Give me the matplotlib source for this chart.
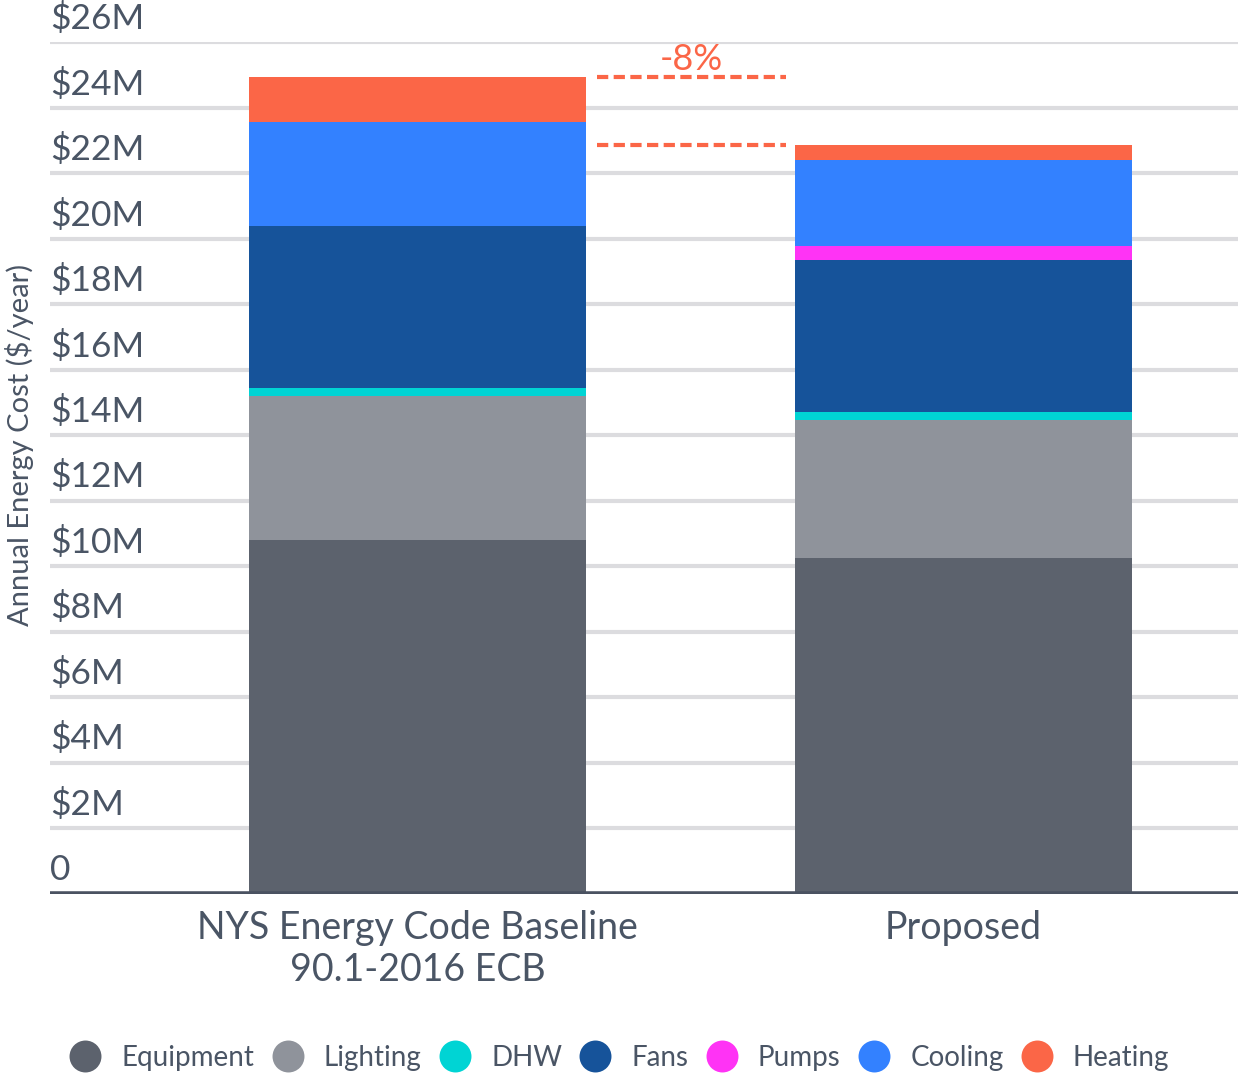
import numpy as np
import matplotlib
matplotlib.use('Agg')
import matplotlib.pyplot as plt
from matplotlib.lines import Line2D
from matplotlib.transforms import blended_transform_factory

# Data ($M per year)
categories = ['NYS Energy Code Baseline\n90.1-2016 ECB', 'Proposed']
end_uses = ['Equipment', 'Lighting', 'DHW', 'Fans', 'Pumps', 'Cooling', 'Heating']
baseline = [10.80, 4.41, 0.23, 4.95, 0.00, 3.18, 1.36]
proposed = [10.25, 4.22, 0.24, 4.64, 0.44, 2.63, 0.44]
yticks = [0, 2, 4, 6, 8, 10, 12, 14, 16, 18, 20, 22, 24, 26]
ytick_labels = ['0'] + ['$%dM' % v for v in yticks[1:]]
change_label = '-8%'

colors = ['#5c626d', '#8f939b', '#00d4d4', '#16539a', '#ff33f5', '#3381ff', '#fb6647']
text_color = '#4a5565'

plt.rcParams['font.family'] = ['Lato', 'DejaVu Sans']

fig = plt.figure(figsize=(12.38, 10.77), dpi=100)
ax = fig.add_axes([50 / 1238, 1 - 893.6 / 1077, 1 - 50 / 1238, (893.6 - 42.3) / 1077])

x = np.arange(len(categories))
width = 0.617
data = np.array([baseline, proposed])
bottom = np.zeros(len(categories))
for i, name in enumerate(end_uses):
    ax.bar(x, data[:, i], width, bottom=bottom, color=colors[i], zorder=3,
           linewidth=0)
    bottom += data[:, i]

totals = data.sum(axis=1)

ax.set_xlim(-0.673, 1.503)
ax.set_ylim(0, 26)

# grid lines and labels above them
for v in yticks[1:]:
    ax.axhline(v, color='#dcdcdf', lw=3, zorder=1)
trans = blended_transform_factory(ax.transAxes, ax.transData)
for v, lab in zip(yticks, ytick_labels):
    ax.text(0, v + 0.22, lab, transform=trans, ha='left', va='bottom',
            fontsize=25.5, color=text_color, zorder=4)
ax.axhline(0, color='#4a5261', lw=4, zorder=4)

ax.set_yticks([])
ax.set_xticks(x)
ax.set_xticklabels(categories, fontsize=27, color=text_color, linespacing=1.2)
ax.tick_params(axis='x', length=0, pad=12)
for s in ax.spines.values():
    s.set_visible(False)

fig.text(20 / 1238, 1 - 445 / 1077, 'Annual Energy Cost ($/year)', rotation=90,
         ha='center', va='center', fontsize=21, color=text_color)

# change annotation
x0 = x[0] + width / 2 + 0.02
x1 = x[1] - width / 2 - 0.016
for t in totals:
    ax.plot([x0, x1], [t, t], color='#fb6647', lw=3, dashes=(2.7, 1.3),
            zorder=5, solid_capstyle='butt', dash_capstyle='butt')
ax.text((x0 + x1) / 2, totals[0] + 0.05, change_label, ha='center', va='bottom',
        fontsize=26, color='#fb6647')

handles = [Line2D([], [], marker='o', ls='', markersize=23, color=c,
                  markeredgewidth=0) for c in colors]
fig.legend(handles, end_uses, loc='center', bbox_to_anchor=(0.5, 1 - 1058 / 1077),
           ncol=7, frameon=False, fontsize=20, labelcolor=text_color,
           handletextpad=0.7, columnspacing=0.6, handlelength=1.2)

fig.savefig('out.png', dpi=100)
